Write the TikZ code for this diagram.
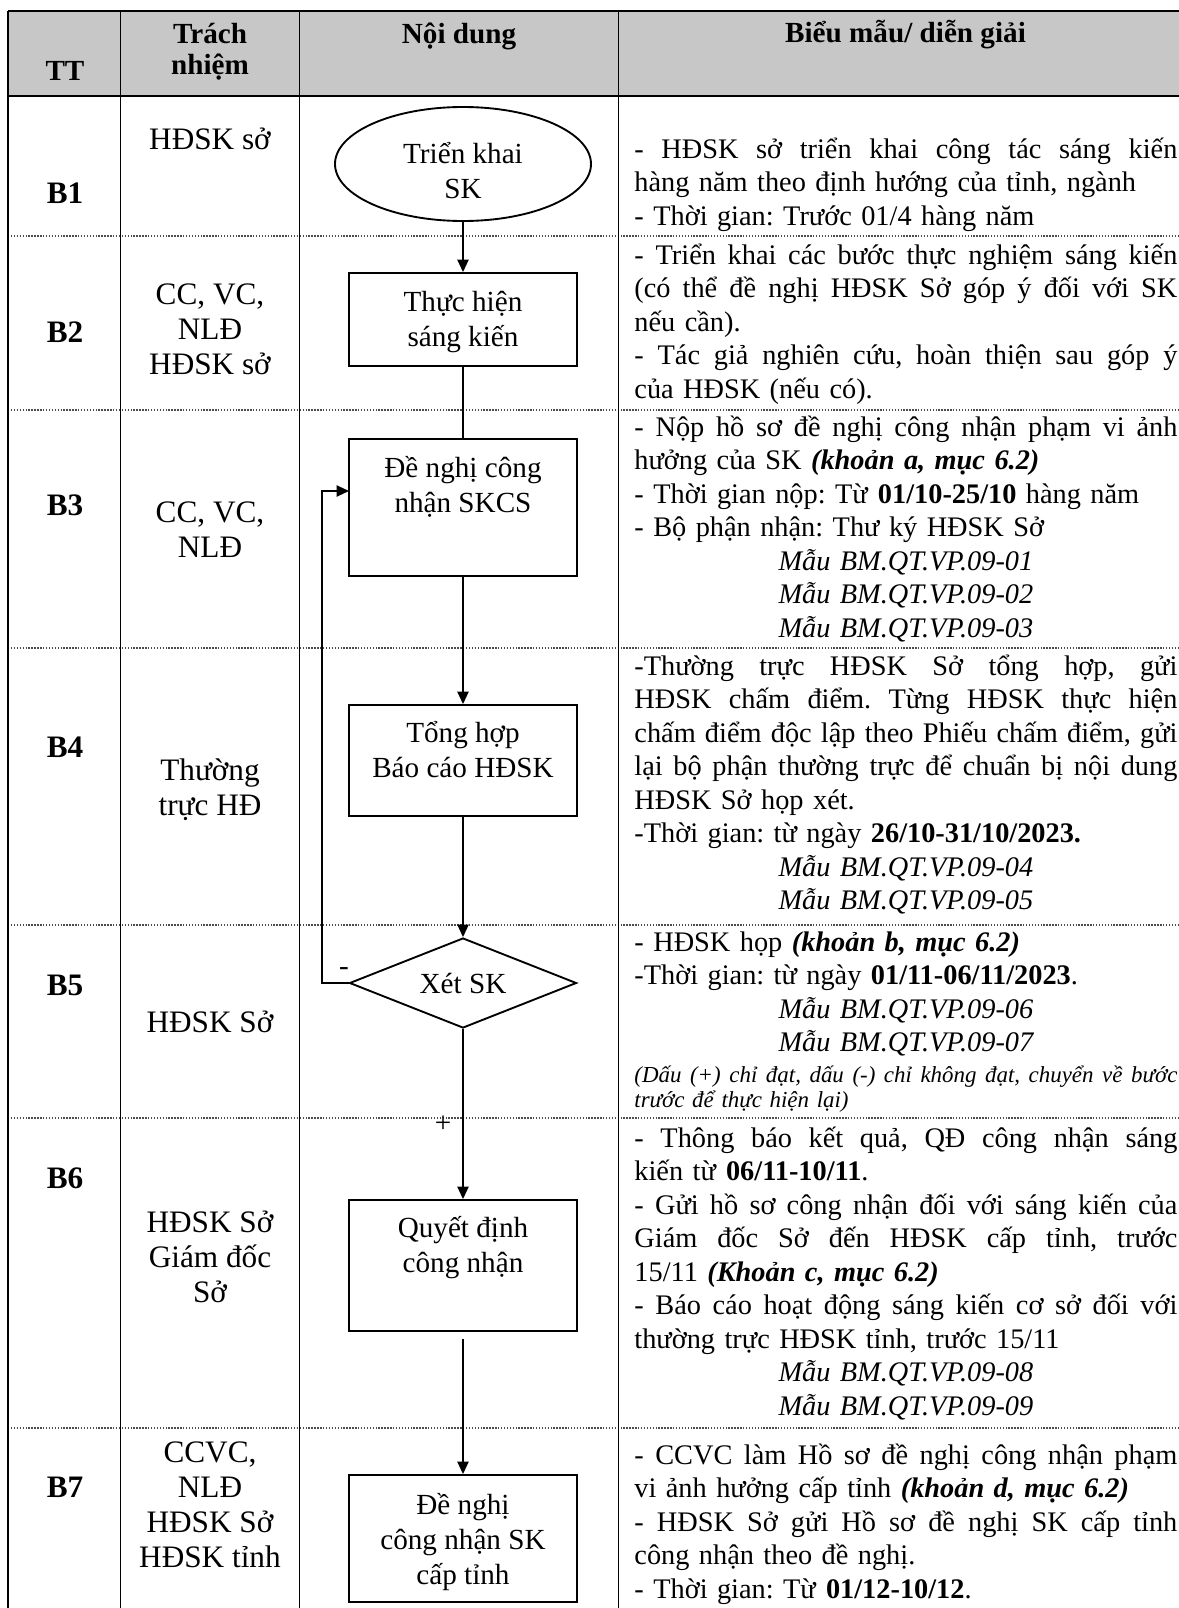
\documentclass[tikz,border=0pt]{standalone}
\usepackage{fontspec}
\setmainfont{Liberation Serif}
\usetikzlibrary{shapes.geometric,arrows.meta}
\frenchspacing
\newlength\RW \setlength\RW{260.64pt}
\newcommand\pxu{0.48pt}
\newcommand\rfont{\fontsize{13.6}{16.08}\selectfont}
\newcommand\lfont{\fontsize{15}{16.8}\selectfont}
\newcommand\bxfont{\fontsize{14}{16.8}\selectfont}
\newcommand\hfont{\fontsize{14}{14.88}\selectfont\bfseries}
\newcommand\Blfont{\fontsize{15}{17}\selectfont\bfseries}
\newcommand\notefont{\fontsize{11}{12}\selectfont\itshape}
\newcommand\strt{\rule{0pt}{16pt}}
\newcommand\jline[1]{\makebox[\RW][s]{\spaceskip=.25em plus .4em minus .1em #1}}
\newcommand\mline[1]{\makebox[\RW][c]{\itshape #1}}
\begin{document}
\begin{tikzpicture}[x=0.48pt,y=-0.48pt]
\tikzset{
  vline/.style={line width=0.9pt},
  tline/.style={line width=1pt},
  hsep/.style={line width=0.5pt, dash pattern=on 0.7pt off 0.7pt, black!70},
  shp/.style={draw, line width=0.9pt, inner sep=0pt},
  conn/.style={line width=0.85pt},
  arr/.style={conn, -{Triangle[length=6pt,width=5.4pt]}},
  rtxt/.style={anchor=north west, inner sep=0pt, text width=\RW, align=left, font=\rfont},
  notetxt/.style={anchor=north west, inner sep=0pt, text width=\RW, align=left, font=\notefont},
  ltxt/.style={anchor=north, inner sep=0pt, align=center, font=\lfont},
  lbase/.style={anchor=base, inner sep=0pt, font=\lfont},
  blbl/.style={anchor=base, inner sep=0pt, font=\Blfont},
  hdr/.style={inner sep=0pt, font=\hfont, align=center},
  btxt/.style={anchor=north, inner sep=0pt, align=center, font=\bxfont},
}
\fill[white] (0,0) rectangle (1179,1608);
\useasboundingbox (0,0) rectangle (1179,1608);
% table
\fill[black!22] (8,11) rectangle (1179,96);
\foreach \yy in {236,410,648,925,1118,1428} \draw[hsep] (8,\yy) -- (1179,\yy);
\draw[tline] (8,11) -- (1179,11);
\draw[tline] (8,96) -- (1179,96);
\foreach \xx in {8,120.5,299.5,618.5} \draw[vline] (\xx,11) -- (\xx,1608);
% header
\node[hdr, anchor=base] (hTT) at (65,80) {TT};
\node[hdr, anchor=north] (hTN) at (210,9.67) {\strt Trách\\nhiệm};
\node[hdr, anchor=base] (hND) at (459,43) {Nội dung};
\node[hdr, anchor=base] (hBM) at (905.5,42) {Biểu mẫu/ diễn giải};
% step labels
\foreach \lbl/\yy in {B1/203,B2/342,B3/515,B4/757,B5/995,B6/1188,B7/1497}
  \node[blbl] (\lbl) at (65,\yy) {\lbl};
% responsibility
\node[lbase] (t1) at (210,149.5) {HĐSK sở};
\node[ltxt] (t2) at (210,271.2) {\strt CC, VC,\\NLĐ\\HĐSK sở};
\node[ltxt] (t3) at (210,489.2) {\strt CC, VC,\\NLĐ};
\node[ltxt] (t4) at (210,747.2) {\strt Thường\\trực HĐ};
\node[lbase] (t5) at (210,1032.5) {HĐSK Sở};
\node[ltxt] (t6) at (210,1199.2) {\strt HĐSK Sở\\Giám đốc\\Sở};
\node[ltxt] (t7) at (210,1429.2) {\strt CCVC,\\NLĐ\\HĐSK Sở\\HĐSK tỉnh};
% flowchart shapes
\node[shp, ellipse, minimum width=256*\pxu, minimum height=114*\pxu] (e) at (463,164) {};
\node[shp, rectangle, minimum width=228*\pxu, minimum height=93*\pxu] (b2) at (463,319.5) {};
\node[shp, rectangle, minimum width=228*\pxu, minimum height=137*\pxu] (b3) at (463,507.5) {};
\node[shp, rectangle, minimum width=228*\pxu, minimum height=111*\pxu] (b4) at (463,760.5) {};
\node[shp, diamond, aspect=2.52, minimum width=227*\pxu, minimum height=90*\pxu] (d) at (463,983) {};
\node[shp, rectangle, minimum width=228*\pxu, minimum height=131*\pxu] (b6) at (463,1265.5) {};
\node[shp, rectangle, minimum width=228*\pxu, minimum height=127*\pxu] (b7) at (463,1538.5) {};
% shape texts
\node[btxt] (et) at (463,129.67) {\strt Triển khai\\SK};
\node[btxt] (b2t) at (463,277.67) {\strt Thực hiện\\sáng kiến};
\node[btxt] (b3t) at (463,443.67) {\strt Đề nghị công\\nhận SKCS};
\node[btxt] (b4t) at (463,708.67) {\strt Tổng hợp\\Báo cáo HĐSK};
\node[btxt, anchor=base] (dt) at (463,993) {Xét SK};
\node[btxt] (b6t) at (463,1203.67) {\strt Quyết định\\công nhận};
\node[btxt] (b7t) at (463,1480.67) {\strt Đề nghị\\công nhận SK\\cấp tỉnh};
% connectors
\draw[arr] (e) -- (b2);
\draw[conn] (b2) -- (b3);
\draw[arr] (b3) -- (b4);
\draw[arr] (b4) -- (d);
\draw[arr] (d) -- node[pos=0.56, xshift=-9.6pt, font=\bxfont, inner sep=0pt] (plus) {+} (b6);
\draw[arr, shorten <=3.4pt] (b6) -- (b7);
\coordinate (fbx) at (322,983);
\coordinate (fbin) at (349,491);
\draw[arr] (d.west) -- (fbx) |- (fbin);
\node[font=\bxfont, inner sep=0pt] (minus) at (344,972) {-};
% descriptions
\node[rtxt] (r1) at (634,124.67) {\strt\jline{- HĐSK sở triển khai công tác sáng kiến}\\
hàng năm theo định hướng của tỉnh, ngành\\
- Thời gian: Trước 01/4 hàng năm};
\node[rtxt] (r2) at (634,230.67) {\strt\jline{- Triển khai các bước thực nghiệm sáng kiến}\\
\jline{(có thể đề nghị HĐSK Sở góp ý đối với SK}\\
nếu cần).\\
\jline{- Tác giả nghiên cứu, hoàn thiện sau góp ý}\\
của HĐSK (nếu có).};
\node[rtxt] (r3) at (634,402.67) {\strt\jline{- Nộp hồ sơ đề nghị công nhận phạm vi ảnh}\\
hưởng của SK \textbf{\textit{(khoản a, mục 6.2)}}\\
- Thời gian nộp: Từ \textbf{01/10-25/10} hàng năm\\
- Bộ phận nhận: Thư ký HĐSK Sở\\
\mline{Mẫu BM.QT.VP.09-01}\\
\mline{Mẫu BM.QT.VP.09-02}\\
\mline{Mẫu BM.QT.VP.09-03}};
\node[rtxt] (r4) at (634,641.67) {\strt\jline{-Thường trực HĐSK Sở tổng hợp, gửi}\\
\jline{HĐSK chấm điểm. Từng HĐSK thực hiện}\\
\jline{chấm điểm độc lập theo Phiếu chấm điểm, gửi}\\
\jline{lại bộ phận thường trực để chuẩn bị nội dung}\\
HĐSK Sở họp xét.\\
-Thời gian: từ ngày \textbf{26/10-31/10/2023.}\\
\mline{Mẫu BM.QT.VP.09-04}\\
\mline{Mẫu BM.QT.VP.09-05}};
\node[rtxt] (r5) at (634,917.67) {\strt - HĐSK họp \textbf{\textit{(khoản b, mục 6.2)}}\\
-Thời gian: từ ngày \textbf{01/11-06/11/2023}.\\
\mline{Mẫu BM.QT.VP.09-06}\\
\mline{Mẫu BM.QT.VP.09-07}};
\node[notetxt] (r5n) at (634,1048.67) {\strt\jline{(Dấu (+) chỉ đạt, dấu (-) chỉ không đạt, chuyển về bước}\\
trước để thực hiện lại)};
\node[rtxt] (r6) at (634,1113.67) {\strt\jline{- Thông báo kết quả, QĐ công nhận sáng}\\
kiến từ \textbf{06/11-10/11}.\\
\jline{- Gửi hồ sơ công nhận đối với sáng kiến của}\\
\jline{Giám đốc Sở đến HĐSK cấp tỉnh, trước}\\
15/11 \textbf{\textit{(Khoản c, mục 6.2)}}\\
\jline{- Báo cáo hoạt động sáng kiến cơ sở đối với}\\
thường trực HĐSK tỉnh, trước 15/11\\
\mline{Mẫu BM.QT.VP.09-08}\\
\mline{Mẫu BM.QT.VP.09-09}};
\node[rtxt] (r7) at (634,1430.67) {\strt\jline{- CCVC làm Hồ sơ đề nghị công nhận phạm}\\
vi ảnh hưởng cấp tỉnh \textbf{\textit{(khoản d, mục 6.2)}}\\
\jline{- HĐSK Sở gửi Hồ sơ đề nghị SK cấp tỉnh}\\
công nhận theo đề nghị.\\
- Thời gian: Từ \textbf{01/12-10/12}.};
\end{tikzpicture}
\end{document}
